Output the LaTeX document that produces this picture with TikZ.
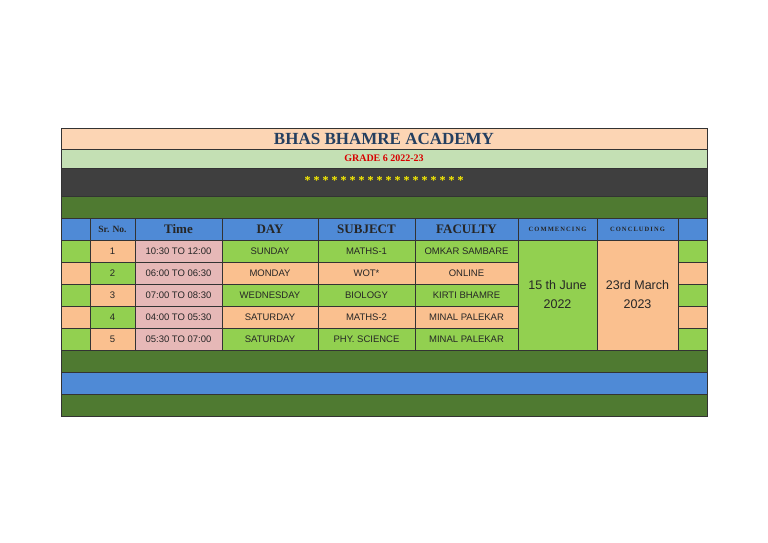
\documentclass[tikz,border=0pt]{standalone}
\usepackage{fontspec}
\setmainfont{Liberation Serif}
\setsansfont{Liberation Sans}
\begin{document}
\begin{tikzpicture}[x=1pt,y=-1pt,
 cell/.style={draw=black!80,line width=0.6pt},
 dat/.style={font=\sffamily\fontsize{9.5}{11}\selectfont,text=black!85},
 hd/.style={font=\bfseries\fontsize{13}{15}\selectfont,text=black!85},
 hs/.style={font=\bfseries\fontsize{6.5}{8}\selectfont,text=black!85}]
\definecolor{peach}{HTML}{FCD5B4}
\definecolor{lgreen}{HTML}{C4E0B4}
\definecolor{dgray}{HTML}{3F3F3F}
\definecolor{dgreen}{HTML}{4F7A31}
\definecolor{myblue}{HTML}{4F8AD6}
\definecolor{gr}{HTML}{92D050}
\definecolor{org}{HTML}{FAC08F}
\definecolor{pnk}{HTML}{E6B8B7}
\definecolor{navy}{HTML}{243F60}
\useasboundingbox (0,0) rectangle (768,543);
\fill[white] (0,0) rectangle (768,543);
\draw[cell,fill=peach] (61,128) rectangle (707,149);
\draw[cell,fill=lgreen] (61,149) rectangle (707,168);
\draw[cell,fill=dgray] (61,168) rectangle (707,196);
\draw[cell,fill=dgreen] (61,196) rectangle (707,218);
\node[font=\bfseries\fontsize{17}{19}\selectfont,text=navy] (title) at (384,138.5) {BHAS BHAMRE ACADEMY};
\node[font=\bfseries\fontsize{10}{12}\selectfont,text=red!85!black] (grade) at (384,158.5) {GRADE 6 2022-23};
\node[font=\bfseries\fontsize{12}{14}\selectfont,text=yellow] (stars) at (384,181) {* * * * * * * * * * * * * * * * * *};
% header
\foreach \a/\b in {61/90,90/135,135/222,222/318,318/415,415/518,518/597,597/678,678/707}
  \draw[cell,fill=myblue] (\a,218) rectangle (\b,240);
\node[hd,font=\bfseries\fontsize{9.5}{11}\selectfont] (h1) at (112.5,229) {Sr. No.};
\node[hd] (h2) at (178.5,229) {Time};
\node[hd] (h3) at (270,229) {DAY};
\node[hd] (h4) at (366.5,229) {SUBJECT};
\node[hd] (h5) at (466.5,229) {FACULTY};
\node[hs] (h6) at (557.5,229) {C\,O\,M\,M\,E\,N\,C\,I\,N\,G};
\node[hs] (h7) at (637.5,229) {C\,O\,N\,C\,L\,U\,D\,I\,N\,G};
% data rows
\foreach \i/\tm/\dy/\sb/\fc in {1/10:30 TO 12:00/SUNDAY/MATHS-1/OMKAR SAMBARE,2/06:00 TO 06:30/MONDAY/WOT*/ONLINE,3/07:00 TO 08:30/WEDNESDAY/BIOLOGY/KIRTI BHAMRE,4/04:00 TO 05:30/SATURDAY/MATHS-2/MINAL PALEKAR,5/05:30 TO 07:00/SATURDAY/PHY. SCIENCE/MINAL PALEKAR}{
  \pgfmathsetmacro{\yt}{240+22*(\i-1)}
  \pgfmathsetmacro{\yb}{\yt+22}
  \pgfmathsetmacro{\ym}{\yt+11}
  \ifodd\i \def\ca{gr}\def\cb{org}\else \def\ca{org}\def\cb{gr}\fi
  \draw[cell,fill=\ca] (61,\yt) rectangle (90,\yb);
  \draw[cell,fill=\cb] (90,\yt) rectangle (135,\yb);
  \draw[cell,fill=pnk] (135,\yt) rectangle (222,\yb);
  \draw[cell,fill=\ca] (222,\yt) rectangle (318,\yb);
  \draw[cell,fill=\ca] (318,\yt) rectangle (415,\yb);
  \draw[cell,fill=\ca] (415,\yt) rectangle (518,\yb);
  \draw[cell,fill=\ca] (678,\yt) rectangle (707,\yb);
  \node[dat] (n\i) at (112.5,\ym) {\i};
  \node[dat] (t\i) at (178.5,\ym) {\tm};
  \node[dat] (d\i) at (270,\ym) {\dy};
  \node[dat] (s\i) at (366.5,\ym) {\sb};
  \node[dat] (f\i) at (466.5,\ym) {\fc};
}
\draw[cell,fill=gr] (518,240) rectangle (597,350);
\draw[cell,fill=org] (597,240) rectangle (678,350);
\node[dat,font=\sffamily\fontsize{12.5}{19}\selectfont,align=center] (com) at (557.5,295) {15 th June\\2022};
\node[dat,font=\sffamily\fontsize{12.5}{19}\selectfont,align=center] (con) at (637.5,295) {23rd March\\2023};
\draw[cell,fill=dgreen] (61,350) rectangle (707,372);
\draw[cell,fill=myblue] (61,372) rectangle (707,394);
\draw[cell,fill=dgreen] (61,394) rectangle (707,416);
\end{tikzpicture}
\end{document}
